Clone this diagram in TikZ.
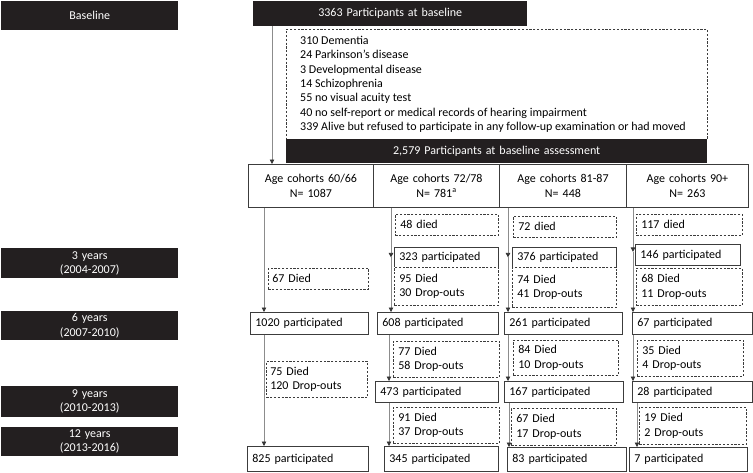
\documentclass[tikz,border=0pt]{standalone}
\usepackage{fontspec}
\setmainfont{Carlito}
\usetikzlibrary{arrows.meta}
\definecolor{blk}{HTML}{231F20}
\definecolor{edgec}{HTML}{3C3C3C}
\definecolor{linc}{HTML}{8C8C8C}
\newcommand\bx[8]{\node[#2,anchor=north west,inner xsep=#8,inner ysep=0pt,minimum width={#5-#3},minimum height={#6-#4},text width={#5-#3-2*#8}] (#1) at (#3,#4) {#7};}
\begin{document}
\begin{tikzpicture}[x=1pt,y=-1pt,
  font=\fontsize{12}{14.4}\selectfont,
  blackbox/.style={fill=blk,text=white,draw=none,align=center},
  solidbox/.style={draw=edgec,line width=0.8pt,fill=white,align=left},
  agebox/.style={draw=edgec,line width=0.9pt,fill=white,align=center},
  dbox/.style={draw=edgec,line width=0.6pt,dash pattern=on 2.2pt off 1.6pt,fill=white,align=left},
  arr/.style={draw=linc,line width=0.8pt,-{Triangle[width=4.5pt,length=4.5pt,color=black!80]}}]
\useasboundingbox (0,0) rectangle (753,472);
% left time labels
\bx{base}{blackbox}{1}{1}{178}{30}{Baseline}{2}
\bx{y3}{blackbox}{1}{248}{178}{278}{3 years\\(2004-2007)}{2}
\bx{y6}{blackbox}{1}{311}{178}{340}{6 years\\(2007-2010)}{2}
\bx{y9}{blackbox}{1}{386}{178}{417}{9 years\\(2010-2013)}{2}
\bx{y12}{blackbox}{1}{427}{178}{456}{12 years\\(2013-2016)}{2}
% top
\bx{p3363}{blackbox}{253}{1}{527}{26}{3363 Participants at baseline}{2}
\bx{excl}{dbox}{286}{29}{707}{139}{}{2}
\node[anchor=west,align=left,inner sep=0pt] (excltxt) at ([xshift=14]excl.west) {310 Dementia\\24 Parkinson’s disease\\3 Developmental disease\\14 Schizophrenia\\55 no visual acuity test\\40 no self-report or medical records of hearing impairment\\339 Alive but refused to participate in any follow-up examination or had moved};
\bx{p2579}{blackbox}{286}{139}{707}{163}{2,579 Participants at baseline assessment}{2}
% age cohorts
\bx{age1}{agebox}{248}{164}{373}{207}{Age cohorts 60/66\\N= 1087}{2}
\bx{age2}{agebox}{373}{164}{499}{207}{Age cohorts 72/78\\N= 781\textsuperscript{a}}{2}
\bx{age3}{agebox}{499}{164}{626}{207}{Age cohorts 81-87\\N= 448}{2}
\bx{age4}{agebox}{626}{164}{748}{207}{Age cohorts 90+\\N= 263}{2}
% column 1
\bx{d67}{dbox}{268}{268}{368}{289}{67 Died}{4}
\bx{p1020}{solidbox}{250}{312}{368}{334}{1020 participated}{5}
\bx{d75}{dbox}{266}{361}{367}{397}{75 Died\\120 Drop-outs}{4}
\bx{p825}{solidbox}{247}{446}{368}{471}{825 participated}{5}
% column 2
\bx{d48}{dbox}{395}{214}{498}{235}{48 died}{5}
\bx{p323}{solidbox}{394}{247}{498}{267}{323 participated}{5}
\bx{d95}{dbox}{394}{267}{498}{305}{95 Died\\30 Drop-outs}{5}
\bx{p608}{solidbox}{377}{312}{498}{334}{608 participated}{5}
\bx{d77}{dbox}{393}{341}{499}{377}{77 Died\\58 Drop-outs}{5}
\bx{p473}{solidbox}{375}{381}{498}{402}{473 participated}{5}
\bx{d91}{dbox}{393}{407}{499}{443}{91 Died\\37 Drop-outs}{5}
\bx{p345}{solidbox}{384}{446}{498}{471}{345 participated}{5}
% column 3
\bx{d72}{dbox}{513}{216}{616}{237}{72 died}{5}
\bx{p376}{solidbox}{512}{247}{616}{267}{376 participated}{5}
\bx{d74}{dbox}{512}{267}{616}{307}{74 Died\\41 Drop-outs}{5}
\bx{p261}{solidbox}{504}{312}{622}{334}{261 participated}{5}
\bx{d84}{dbox}{513}{340}{618}{375}{84 Died\\10 Drop-outs}{5}
\bx{p167}{solidbox}{504}{381}{623}{402}{167 participated}{5}
\bx{d67b}{dbox}{511}{408}{616}{445}{67 Died\\17 Drop-outs}{5}
\bx{p83}{solidbox}{507}{447}{626}{471}{83 participated}{5}
% column 4
\bx{d117}{dbox}{636}{214}{742}{235}{117 died}{5}
\bx{p146}{solidbox}{635}{244}{740}{265}{146 participated}{5}
\bx{d68}{dbox}{636}{268}{742}{305}{68 Died\\11 Drop-outs}{5}
\bx{p67}{solidbox}{632}{312}{752}{334}{67 participated}{5}
\bx{d35}{dbox}{637}{340}{743}{376}{35 Died\\4 Drop-outs}{5}
\bx{p28}{solidbox}{632}{381}{752}{402}{28 participated}{5}
\bx{d19}{dbox}{639}{407}{746}{444}{19 Died\\2 Drop-outs}{5}
\bx{p7}{solidbox}{629}{447}{747}{471}{7 participated}{5}
% arrow columns
\coordinate (c0) at (272,0);
\coordinate (c1) at (264,0);
\coordinate (c2) at (391,0);
\coordinate (c2b) at (389,0);
\coordinate (c3) at (508,0);
\coordinate (c3b) at (509,0);
\coordinate (c4) at (633,0);
\coordinate (c4b) at (637,0);
\draw[arr] (p3363.south -| c0) -- (age1.north -| c0);
\draw[arr] (age1.south -| c1) -- (p1020.north -| c1);
\draw[arr] (p1020.south -| c1) -- (p825.north -| c1);
\draw[arr] (age2.south -| c2) -- (p323.west -| c2);
\draw[arr] (p323.west -| c2) -- (p608.north -| c2);
\draw[arr] (p608.south -| c2b) -- (p473.north -| c2b);
\draw[arr] (p473.south -| c2b) -- (p345.north -| c2b);
\draw[arr] (age3.south -| c3) -- (p376.west -| c3);
\draw[arr] (p376.west -| c3) -- (p261.north -| c3);
\draw[arr] (p261.south -| c3) -- (p167.north -| c3);
\draw[arr] (p167.south -| c3b) -- (p83.north -| c3b);
\draw[arr] (age4.south -| c4) -- ([yshift=3]p146.west -| c4);
\draw[arr] ([yshift=3]p146.west -| c4) -- (p67.north -| c4);
\draw[arr] (p67.south -| c4) -- (p28.north -| c4);
\draw[arr] (p28.south -| c4b) -- (p7.north -| c4b);
\end{tikzpicture}
\end{document}
